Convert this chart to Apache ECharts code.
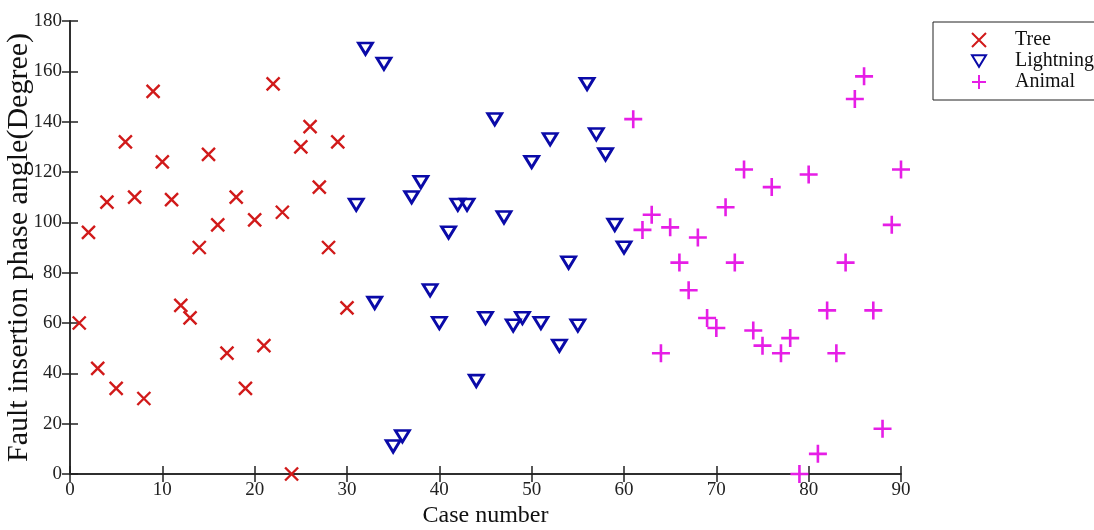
<!DOCTYPE html>
<html>
<head>
<meta charset="utf-8">
<script src="https://cdn.jsdelivr.net/npm/echarts@6/dist/echarts.min.js"></script>
<style>
html,body{margin:0;padding:0;background:#fff;}
#chart{width:1094px;height:530px;}
</style>
</head>
<body>
<div id="chart"></div>
<script>
// ---- data ----
const treeCases = [1,2,3,4,5,6,7,8,9,10,11,12,13,14,15,16,17,18,19,20,21,22,23,24,25,26,27,28,29,30];
const treeAngles = [60,96,42,108,34,132,110,30,152,124,109,67,62,90,127,99,48,110,34,101,51,155,104,0,130,138,114,90,132,66];

const lightningCases = [31,32,33,34,35,36,37,38,39,40,41,42,43,44,45,46,47,48,49,50,51,52,53,54,55,56,57,58,59,60];
const lightningAngles = [107,169,68,163,11,15,110,116,73,60,96,107,107,37,62,141,102,59,62,124,60,133,51,84,59,155,135,127,99,90];

const animalCases = [61,62,63,64,65,66,67,68,69,70,71,72,73,74,75,76,77,78,79,80,81,82,83,84,85,86,87,88,89,90];
const animalAngles = [141,97,103,48,98,84,73,94,62,58,106,84,121,57,51,114,48,54,0,119,8,65,48,84,149,158,65,18,99,121];

const xTicks = {min: 0, max: 90, interval: 10};
const yTicks = {min: 0, max: 180, interval: 20};

const seriesNames = ['Tree', 'Lightning', 'Animal'];

// ---- styling ----
const FONT = '"Liberation Serif", "Times New Roman", serif';
const RED = '#d11a1a', BLUE = '#0a0aa8', MAG = '#e61ee6';
const AX = '#222';

function pairs(xs, ys){ return xs.map((x,i)=>[x, ys[i]]); }

const X_PATH = 'path://M0,0L10,10M10,0L0,10';
const TRI_PATH = 'path://M0,0L10,0L5,8.2Z';
const PLUS_PATH = 'path://M5,0L5,10M0,5L10,5';

const chart = echarts.init(document.getElementById('chart'), null, {renderer:'canvas'});

const axisCommon = {
  axisLine: {show:true, lineStyle:{color:AX, width:1.5}},
  axisTick: {show:true, inside:true, length:8, lineStyle:{color:AX, width:1.5}},
  splitLine: {show:false}
};

const option = {
  animation: false,
  backgroundColor: '#fff',
  grid: {left: 70, right: 193, top: 21, bottom: 56, containLabel: false, outerBoundsMode: 'none'},
  legend: {
    orient: 'vertical',
    left: 933, top: 22,
    data: seriesNames,
    itemWidth: 14, itemHeight: 14,
    itemGap: 1,
    padding: [8, 60, 8, 38],
    borderColor: AX, borderWidth: 1,
    backgroundColor: '#fff',
    textStyle: {fontFamily: FONT, fontSize: 20, color: '#111', lineHeight: 20, padding: [0,0,0,24]},
    selectedMode: false
  },
  xAxis: [
    Object.assign({
      type: 'value', position: 'bottom',
      min: xTicks.min, max: xTicks.max, interval: xTicks.interval,
      name: 'Case number', nameLocation: 'middle', nameGap: 30, nameMoveOverlap: false,
      nameTextStyle: {fontFamily: FONT, fontSize: 24, color: '#111'},
      axisLabel: {fontFamily: FONT, fontSize: 19, color: '#222', margin: 7}
    }, axisCommon),
    Object.assign({
      type: 'value', position: 'top', gridIndex: 0,
      min: xTicks.min, max: xTicks.max, interval: xTicks.interval,
      axisLabel: {show:false}
    }, axisCommon)
  ],
  yAxis: [
    Object.assign({
      type: 'value', position: 'left',
      min: yTicks.min, max: yTicks.max, interval: yTicks.interval,
      name: 'Fault insertion phase angle(Degree)', nameLocation: 'middle', nameGap: 36, nameMoveOverlap: false,
      nameTextStyle: {fontFamily: FONT, fontSize: 30, color: '#111'},
      axisLabel: {fontFamily: FONT, fontSize: 19, color: '#222', margin: 8}
    }, axisCommon),
    Object.assign({
      type: 'value', position: 'right', gridIndex: 0,
      min: yTicks.min, max: yTicks.max, interval: yTicks.interval,
      axisLabel: {show:false}
    }, axisCommon)
  ],
  series: [
    {
      name: seriesNames[0], type: 'scatter', clip: false,
      data: pairs(treeCases, treeAngles),
      symbol: X_PATH, symbolSize: 13,
      itemStyle: {color: 'rgba(0,0,0,0)', borderColor: RED, borderWidth: 2.4, opacity: 1},
      emphasis: {disabled: true}
    },
    {
      name: seriesNames[1], type: 'scatter', clip: false,
      data: pairs(lightningCases, lightningAngles),
      symbol: TRI_PATH, symbolSize: [14, 11.5],
      itemStyle: {color: 'rgba(255,255,255,0)', borderColor: BLUE, borderWidth: 2.8, opacity: 1},
      emphasis: {disabled: true}
    },
    {
      name: seriesNames[2], type: 'scatter', clip: false,
      data: pairs(animalCases, animalAngles),
      symbol: PLUS_PATH, symbolSize: 18,
      itemStyle: {color: 'rgba(0,0,0,0)', borderColor: MAG, borderWidth: 2.6, opacity: 1},
      emphasis: {disabled: true}
    }
  ]
};
chart.setOption(option);
</script>
</body>
</html>
